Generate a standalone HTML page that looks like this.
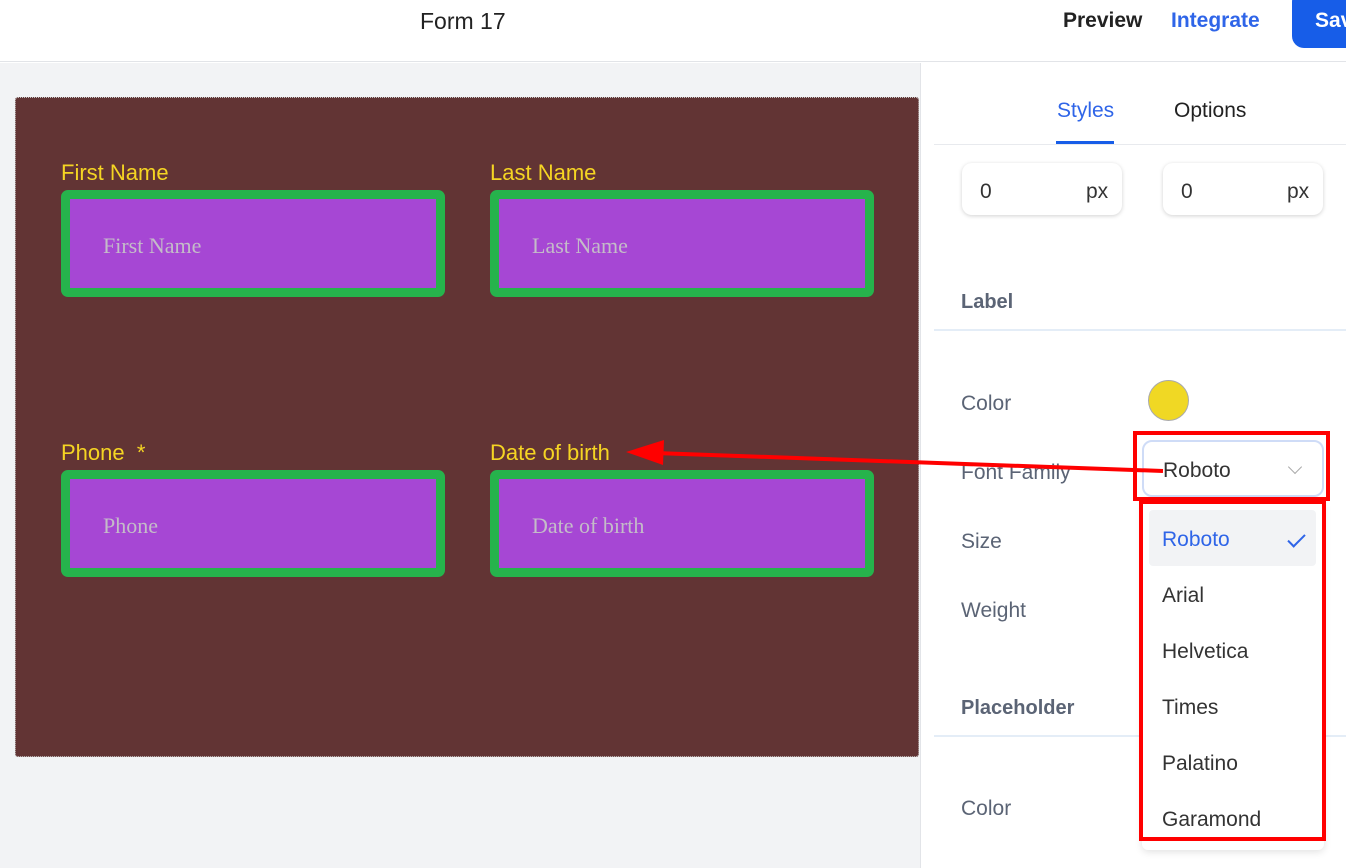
<!DOCTYPE html>
<html><head><style>
*{margin:0;padding:0;box-sizing:border-box}
body{width:1346px;height:868px;overflow:hidden;position:relative;font-family:"Liberation Sans",sans-serif;background:#fff}
.a{position:absolute;white-space:nowrap}
.lbl{color:#f5d523;font-size:22px}
.inp{position:absolute;width:384px;height:107px;border:9px solid #26b34c;border-radius:7px;background:#a647d4}
.inp span{position:absolute;left:33px;top:34px;font-family:"Liberation Serif",serif;font-size:22px;color:#c4bcc8}
.rl{color:#5b6475;font-size:21px}
.opt{position:absolute;left:1162px;font-size:21px;color:#333}
</style></head><body>
<div class="a" style="left:0;top:0;width:1346px;height:62px;border-bottom:1px solid #e2e4e8;background:#fff"></div>
<div class="a" style="left:420px;top:8px;font-size:23px;color:#222">Form 17</div>
<div class="a" style="left:1063px;top:9px;font-size:21px;font-weight:bold;color:#222">Preview</div>
<div class="a" style="left:1171px;top:9px;font-size:21px;font-weight:bold;color:#2f65e8">Integrate</div>
<div class="a" style="left:1292px;top:-10px;width:80px;height:58px;background:#175de8;border-radius:12px;color:#fff;font-size:21px;font-weight:bold;padding:19px 0 0 23px">Save</div>
<div class="a" style="left:0;top:63px;width:921px;height:805px;background:#f2f3f5;border-right:1px solid #e2e4e8"></div>
<div class="a" style="left:15px;top:97px;width:904px;height:660px;background:#623434;border:1px dotted #c8c8c8;border-radius:3px"></div>
<div class="a lbl" style="left:61px;top:160px">First Name</div>
<div class="a lbl" style="left:490px;top:160px">Last Name</div>
<div class="a lbl" style="left:61px;top:440px">Phone&nbsp; *</div>
<div class="a lbl" style="left:490px;top:440px">Date of birth</div>
<div class="inp" style="left:61px;top:190px"><span>First Name</span></div>
<div class="inp" style="left:490px;top:190px"><span>Last Name</span></div>
<div class="inp" style="left:61px;top:470px"><span>Phone</span></div>
<div class="inp" style="left:490px;top:470px"><span>Date of birth</span></div>

<div class="a" style="left:1057px;top:99px;font-size:21px;color:#2f65e8">Styles</div>
<div class="a" style="left:1174px;top:99px;font-size:21px;color:#222">Options</div>
<div class="a" style="left:934px;top:144px;width:412px;height:1px;background:#e8eaee"></div>
<div class="a" style="left:1056px;top:141px;width:58px;height:3px;background:#175de8"></div>
<div class="a" style="left:962px;top:163px;width:160px;height:52px;border-radius:10px;box-shadow:0 1px 4px rgba(0,0,0,.18);background:#fff"></div>
<div class="a" style="left:1163px;top:163px;width:160px;height:52px;border-radius:10px;box-shadow:0 1px 4px rgba(0,0,0,.18);background:#fff"></div>
<div class="a" style="left:980px;top:180px;font-size:21px;color:#333">0</div>
<div class="a" style="left:1086px;top:180px;font-size:21px;color:#333">px</div>
<div class="a" style="left:1181px;top:180px;font-size:21px;color:#333">0</div>
<div class="a" style="left:1287px;top:180px;font-size:21px;color:#333">px</div>
<div class="a" style="left:961px;top:291px;font-size:20px;font-weight:bold;color:#5b6475">Label</div>
<div class="a" style="left:934px;top:329px;width:412px;height:2px;background:#e4edf7"></div>
<div class="a rl" style="left:961px;top:392px">Color</div>
<div class="a" style="left:1148px;top:380px;width:41px;height:41px;border-radius:50%;background:#f0d824;border:1px solid #aaa"></div>
<div class="a rl" style="left:961px;top:461px">Font Family</div>
<div class="a rl" style="left:961px;top:530px">Size</div>
<div class="a rl" style="left:961px;top:599px">Weight</div>
<div class="a" style="left:961px;top:697px;font-size:20px;font-weight:bold;color:#5b6475">Placeholder</div>
<div class="a" style="left:934px;top:735px;width:412px;height:2px;background:#e4edf7"></div>
<div class="a rl" style="left:961px;top:797px">Color</div>

<div class="a" style="left:1142px;top:440px;width:182px;height:57px;border:2px solid #cfdcf7;border-radius:10px;background:#fff"></div>
<div class="a" style="left:1163px;top:459px;font-size:21px;color:#333">Roboto</div>
<div class="a" style="left:1290px;top:462px;width:10px;height:10px;border-right:1.5px solid #aaa;border-bottom:1.5px solid #aaa;transform:rotate(45deg)"></div>
<div class="a" style="left:1133px;top:431px;width:197px;height:70px;border:4px solid #f00"></div>

<div class="a" style="left:1142px;top:500px;width:182px;height:350px;background:#fff;box-shadow:0 2px 8px rgba(0,0,0,.12);border-radius:6px"></div>
<div class="a" style="left:1149px;top:510px;width:167px;height:56px;background:#f2f3f5;border-radius:4px"></div>
<div class="opt" style="top:528px;color:#2f65e8">Roboto</div>
<div class="a" style="left:1292px;top:530px;width:9px;height:17px;border-right:2.5px solid #2f65e8;border-bottom:2.5px solid #2f65e8;transform:rotate(45deg)"></div>
<div class="opt" style="top:584px">Arial</div>
<div class="opt" style="top:640px">Helvetica</div>
<div class="opt" style="top:696px">Times</div>
<div class="opt" style="top:752px">Palatino</div>
<div class="opt" style="top:808px">Garamond</div>
<div class="a" style="left:1139px;top:500px;width:187px;height:341px;border:4px solid #f00"></div>

<svg class="a" style="left:0;top:0" width="1346" height="868">
<line x1="1163" y1="471" x2="655" y2="453" stroke="#f00" stroke-width="4"/>
<polygon points="626,452 664,440 663,465" fill="#f00"/>
</svg>
</body></html>
